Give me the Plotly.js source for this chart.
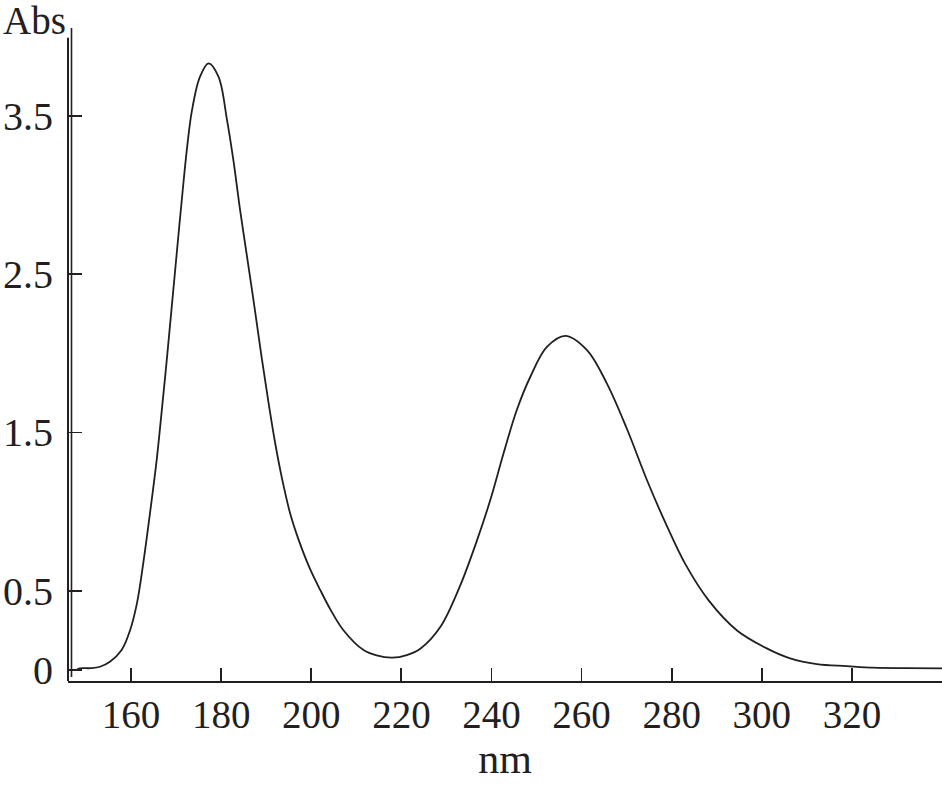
<!DOCTYPE html>
<html>
<head>
<meta charset="utf-8">
<script src="https://cdn.plot.ly/plotly-3.0.1.min.js"></script>
<style>html,body{margin:0;padding:0;background:#fff;}#chart{width:942px;height:785px;}</style>
</head>
<body>
<div id="chart"></div>
<script>
// Wavelength (nm) and absorbance
const wavelength = [147.9,148.5,151.0,153.1,155.3,157.9,159.8,161.3,162.7,164.2,165.7,167.1,168.0,169.15,170.2,171.3,172.4,173.5,175.3,177.2,179.4,181.3,182.7,184.2,186.0,187.5,189.0,190.5,192.0,193.5,195.3,197.1,199.7,202.0,204.2,207.1,211.6,214.5,218.0,221.2,224.2,228.6,233.0,236.8,239.7,242.7,245.6,248.6,252.3,256.4,261.2,265.6,270.1,274.5,279.0,283.0,288.2,294.5,301.1,306.3,312.2,318.9,324.8,332.0,340.0];
const absorbance = [0.0,0.01,0.012,0.021,0.052,0.126,0.253,0.421,0.674,0.99,1.33,1.72,1.98,2.33,2.65,2.98,3.29,3.53,3.746,3.830,3.746,3.472,3.22,2.904,2.56,2.27,1.97,1.69,1.43,1.21,0.99,0.83,0.64,0.505,0.385,0.253,0.126,0.092,0.078,0.095,0.135,0.27,0.53,0.82,1.07,1.37,1.64,1.85,2.04,2.11,2.02,1.81,1.52,1.20,0.905,0.67,0.44,0.25,0.137,0.074,0.038,0.025,0.015,0.012,0.011];
const xTickVals = [160,180,200,220,240,260,280,300,320];
const yTickVals = [0,0.5,1.5,2.5,3.5];
const yTickText = ['0','0.5','1.5','2.5','3.5'];
const xTitle = 'nm';
const yTitle = 'Abs';

const ink = '#231f20';
const font = 'Liberation Serif, Times New Roman, serif';

const trace = {
  x: wavelength, y: absorbance, type: 'scatter', mode: 'lines',
  line: {color: ink, width: 1.8, shape: 'spline', smoothing: 1.0},
  hoverinfo: 'none'
};

const layout = {
  width: 942, height: 785,
  margin: {l: 68, r: 0, t: 28, b: 104},
  paper_bgcolor: '#fff', plot_bgcolor: '#fff',
  showlegend: false,
  font: {family: font, color: ink, size: 39},
  xaxis: {
    range: [146.0, 340.0], tickvals: xTickVals, ticktext: xTickVals.map(String),
    ticks: 'inside', ticklen: 13, tickwidth: 1.8, tickcolor: ink,
    showline: true, linecolor: ink, linewidth: 2, showgrid: false, zeroline: false,
    tickfont: {family: font, size: 39, color: ink},
    ticklabelstandoff: -2,
    title: {text: xTitle, font: {family: font, size: 42, color: ink}, standoff: 2},
    fixedrange: true
  },
  yaxis: {
    range: [-0.069, 4.053], tickvals: yTickVals, ticktext: yTickText,
    ticks: 'inside', ticklen: 14, tickwidth: 1.8, tickcolor: ink,
    showline: false, showgrid: false, zeroline: false,
    tickfont: {family: font, size: 40, color: ink},
    ticklabelstandoff: 14,
    fixedrange: true
  },
  shapes: [
    {type: 'line', xref: 'paper', yref: 'paper', x0: 0, x1: 0, y0: 0, y1: 0.985, line: {color: ink, width: 2}},
    {type: 'line', xref: 'paper', yref: 'paper', x0: 0.004, x1: 0.004, y0: 0.006, y1: 1.0, line: {color: ink, width: 1.6}}
  ],
  annotations: [
    {text: yTitle, xref: 'paper', yref: 'paper', x: 0, y: 1, xanchor: 'right', yanchor: 'bottom', xshift: 0, yshift: -16,
     showarrow: false, font: {family: font, size: 39, color: ink}}
  ]
};

Plotly.newPlot('chart', [trace], layout, {staticPlot: true, displayModeBar: false});
</script>
</body>
</html>
